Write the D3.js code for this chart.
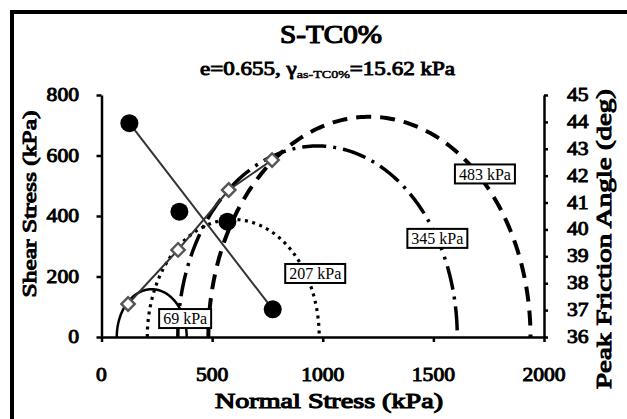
<!DOCTYPE html>
<html><head><meta charset="utf-8">
<script src="https://cdn.jsdelivr.net/npm/d3@7"></script>
<style>body{margin:0;background:#fff}svg{display:block}svg text{font-family:"Liberation Serif","Times New Roman",serif;font-weight:normal}</style>
</head><body>
<script>
// ---- data ----
const confiningLabels = ["69 kPa", "207 kPa", "345 kPa", "483 kPa"];
const sigma3 = [69, 207, 345, 483];          // kPa, minor principal stress
const sigma1 = [385, 984, 1608, 1939];       // kPa, major principal stress at peak
const tangentSigma = [120, 346, 575, 771];   // envelope tangent points (normal stress)
const tangentTau = [109, 288, 486, 585];     // envelope tangent points (shear stress)
const peakSigma = [126, 352, 569, 774];      // normal stress for peak friction angle
const peakPhi = [43.95, 40.66, 40.29, 37.03];// deg
const trendSigma = [126, 774];
const trendPhi = [43.95, 37.03];
const labelSigma = [378, 966, 1518, 1733];   // label anchor (kPa)
const labelTau = [61, 210, 326, 539];
const xTicks = [0, 500, 1000, 1500, 2000];
const yTicks = [0, 200, 400, 600, 800];
const phiTicks = [36, 37, 38, 39, 40, 41, 42, 43, 44, 45];

// ---- layout ----
const W = 627, H = 419;
const svg = d3.select("body").append("svg").attr("width", W).attr("height", H);

svg.append("rect").attr("x", 12).attr("y", 12).attr("width", 800).attr("height", 600)
  .attr("fill", "none").attr("stroke", "#000").attr("stroke-width", 4);

const x = d3.scaleLinear().domain([0, 2000]).range([101.5, 544]);
const y = d3.scaleLinear().domain([0, 800]).range([337, 95]);
const yR = d3.scaleLinear().domain([36, 45]).range([337, 95]);

// Mohr circles
const styles = [
  {dash: null, w: 2.5},
  {dash: "3,4.5", w: 3.2},
  {dash: "24,7,3,7", w: 3.5},
  {dash: "15,9", w: 4}
];
const line = d3.line().x(d => x(d[0])).y(d => y(d[1]));
sigma3.forEach((s3, i) => {
  const c = (sigma1[i] + s3) / 2, r = (sigma1[i] - s3) / 2;
  const pts = d3.range(0, 181).map(k => {
    const t = Math.PI * k / 180;
    return [c + r * Math.cos(t), r * Math.sin(t)];
  });
  svg.append("path").attr("d", line(pts.reverse())).attr("fill", "none")
    .attr("stroke", "#000").attr("stroke-width", styles[i].w)
    .attr("stroke-dasharray", styles[i].dash);
});

// envelope through tangent points
const env = tangentSigma.map((s, i) => [s, tangentTau[i]]);
svg.append("path").attr("d", line(env)).attr("fill", "none")
  .attr("stroke", "#333").attr("stroke-width", 2);

// trend line of peak friction angle
const lineR = d3.line().x(d => x(d[0])).y(d => yR(d[1]));
svg.append("path").attr("d", lineR(trendSigma.map((s, i) => [s, trendPhi[i]])))
  .attr("fill", "none").attr("stroke", "#333").attr("stroke-width", 2);

// diamonds
svg.selectAll(".dm").data(env).join("path").attr("class", "dm")
  .attr("d", d3.symbol(d3.symbolSquare, 90)())
  .attr("transform", d => `translate(${x(d[0])},${y(d[1])}) rotate(45)`)
  .attr("fill", "#fff").attr("stroke", "#555").attr("stroke-width", 2.4);

// peak friction dots
svg.selectAll(".dot").data(peakSigma.map((s, i) => [s, peakPhi[i]])).join("circle")
  .attr("class", "dot").attr("cx", d => x(d[0])).attr("cy", d => yR(d[1])).attr("r", 9)
  .attr("fill", "#000");

// circle labels
confiningLabels.forEach((t, i) => {
  const g = svg.append("g").attr("transform", `translate(${x(labelSigma[i])},${y(labelTau[i])})`);
  const txt = g.append("text").attr("text-anchor", "middle").attr("dy", "0.35em")
    .attr("font-size", 16).text(t);
  const bb = txt.node().getBBox();
  g.insert("rect", "text").attr("x", bb.x - 4).attr("y", -9.5).attr("width", bb.width + 8)
    .attr("height", 19).attr("fill", "#fff").attr("stroke", "#000").attr("stroke-width", 2);
});

// axes
function styleAxis(g) {
  g.selectAll("path,line").attr("stroke", "#000").attr("stroke-width", 2.5);
  g.selectAll("text").remove();
}
svg.append("g").attr("transform", "translate(0,337)")
  .call(d3.axisBottom(x).tickValues(xTicks).tickSize(5).tickSizeOuter(0).tickFormat("")).call(styleAxis);
svg.append("g").attr("transform", "translate(101.5,0)")
  .call(d3.axisLeft(y).tickValues(yTicks).tickSize(5).tickSizeOuter(0).tickFormat("")).call(styleAxis);
svg.append("g").attr("transform", "translate(544,0)")
  .call(d3.axisRight(yR).tickValues(phiTicks).tickSize(4).tickSizeOuter(0).tickFormat("")).call(styleAxis);

// bold-looking text: regular serif with a thin outline
const bold = (sel, w) => sel.attr("stroke", "#000").attr("stroke-width", w).attr("fill", "#000");

const lbl = (px, py, t, anchor) => svg.append("text")
  .attr("transform", `translate(${px},${py}) scale(1.2,1)`).attr("text-anchor", anchor)
  .attr("font-size", 18).text(t).call(bold, 0.9);
xTicks.forEach(v => lbl(x(v), 381, v, "middle"));
yTicks.forEach(v => lbl(79, y(v) + 6, v, "end"));
phiTicks.forEach(v => lbl(567, yR(v) + 6, v, "start"));

// titles
svg.append("text").attr("x", 331).attr("y", 43).attr("text-anchor", "middle")
  .attr("font-size", 26).call(bold, 1.2)
  .attr("textLength", 102).attr("lengthAdjust", "spacingAndGlyphs").text("S-TC0%");
const sub = svg.append("text").attr("x", 200).attr("y", 75)
  .attr("font-size", 18).call(bold, 0.9)
  .attr("textLength", 255).attr("lengthAdjust", "spacingAndGlyphs");
sub.append("tspan").text("e=0.655, γ");
sub.append("tspan").attr("font-size", 11).attr("dy", 3).attr("stroke-width", 0.5).text("as-TC0%");
sub.append("tspan").attr("dy", -3).text("=15.62 kPa");

svg.append("text").attr("x", 329).attr("y", 408).attr("text-anchor", "middle")
  .attr("font-size", 21).call(bold, 1.1)
  .attr("textLength", 228).attr("lengthAdjust", "spacingAndGlyphs").text("Normal Stress (kPa)");
svg.append("text").attr("transform", "translate(36,204) rotate(-90)").attr("text-anchor", "middle")
  .attr("font-size", 19).call(bold, 1.0)
  .attr("textLength", 187).attr("lengthAdjust", "spacingAndGlyphs").text("Shear Stress (kPa)");
svg.append("text").attr("transform", "translate(611,239) rotate(-90)").attr("text-anchor", "middle")
  .attr("font-size", 20).call(bold, 1.0)
  .attr("textLength", 300).attr("lengthAdjust", "spacingAndGlyphs").text("Peak Friction Angle (deg)");
</script>
</body></html>
